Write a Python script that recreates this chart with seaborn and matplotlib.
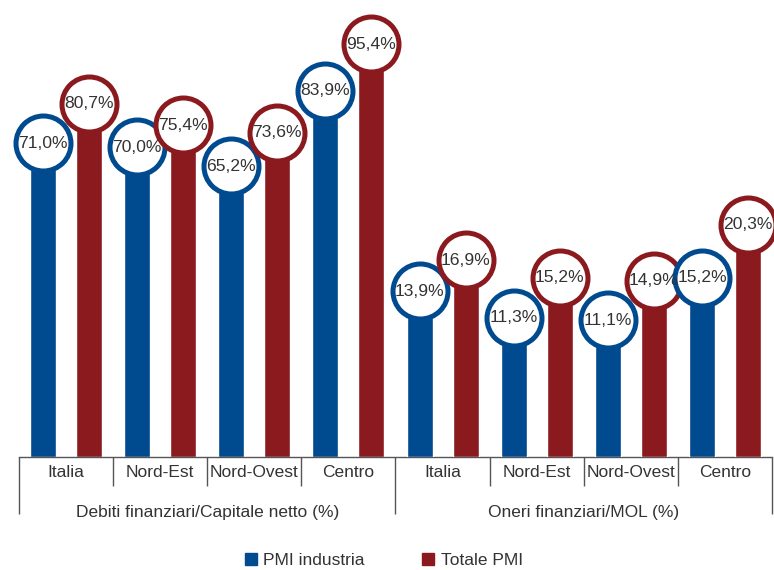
import matplotlib
matplotlib.use('Agg')
import matplotlib.pyplot as plt
from matplotlib.lines import Line2D
import pandas as pd
import seaborn as sns

# Dati
regioni = ['Italia', 'Nord-Est', 'Nord-Ovest', 'Centro']
gruppi = ['Debiti finanziari/Capitale netto (%)', 'Oneri finanziari/MOL (%)']
serie = ['PMI industria', 'Totale PMI']
debiti_pmi_industria = [71.0, 70.0, 65.2, 83.9]
debiti_totale_pmi = [80.7, 75.4, 73.6, 95.4]
oneri_pmi_industria = [13.9, 11.3, 11.1, 15.2]
oneri_totale_pmi = [16.9, 15.2, 14.9, 20.3]

BLU = '#004a8f'
ROSSO = '#8b1a1e'
TESTO = '#333333'
LINEA = '#555555'

righe = []
valori = [(debiti_pmi_industria, debiti_totale_pmi), (oneri_pmi_industria, oneri_totale_pmi)]
for g, coppia in enumerate(valori):
    for s, v in zip(serie, coppia):
        for r, x in zip(regioni, v):
            righe.append({'gruppo': g, 'slot': '{}-{}'.format(g, r), 'serie': s, 'valore': x})
df = pd.DataFrame(righe)
ordine = ['{}-{}'.format(g, r) for g in range(2) for r in regioni]

sns.set_style('white')
plt.rcParams['font.family'] = ['Liberation Sans', 'DejaVu Sans']

fig = plt.figure(figsize=(7.74, 5.70), dpi=100)
ax = fig.add_axes([19 / 774, 113 / 570, 753 / 774, 457 / 570])
ax2 = ax.twinx()

# ogni gruppo ha la sua scala (asse secondario per il secondo)
limiti = [(-6.7, 106.4), (-2.16, 42.08)]
for g, a in enumerate([ax, ax2]):
    sns.barplot(data=df[df.gruppo == g], x='slot', y='valore', hue='serie',
                order=ordine, hue_order=serie, palette=[BLU, ROSSO],
                saturation=1, width=0.977, gap=0.435, errorbar=None,
                legend=False, ax=a, zorder=2)
    basso, alto = limiti[g]
    a.set_ylim(basso, alto)
    barre = [p for p in a.patches if p.get_height() > 0]
    barre.sort(key=lambda p: p.get_x())
    for p in barre:
        cx = p.get_x() + p.get_width() / 2
        cima = p.get_y() + p.get_height()
        colore = p.get_facecolor()
        # la barra parte dalla linea dell'asse
        p.set_y(basso)
        p.set_height(cima - basso)
        a.scatter([cx], [cima], s=1568, facecolor='white', edgecolor=colore,
                  linewidths=3.6, zorder=3, clip_on=False)
        etichetta = '{:.1f}'.format(cima).replace('.', ',') + '%'
        a.text(cx, cima, etichetta, ha='center', va='center', fontsize=12.6,
               color=TESTO, zorder=4)
    a.set_xlabel('')
    a.set_ylabel('')
    a.set_yticks([])
    for lato in ['left', 'right', 'top', 'bottom']:
        a.spines[lato].set_visible(False)

ax.set_xlim(-0.5, 7.5)
ax.spines['bottom'].set_visible(True)
ax.spines['bottom'].set_color(LINEA)
ax.spines['bottom'].set_linewidth(1)
ax.set_xticks(range(8))
ax.set_xticklabels(regioni * 2, fontsize=12.5, color=TESTO)
ax.tick_params(axis='x', length=0, pad=6)

trasf = ax.get_xaxis_transform()
ax.vlines([0.5, 1.5, 2.5, 4.5, 5.5, 6.5], 0, -29 / 457, transform=trasf,
          clip_on=False, color=LINEA, lw=1)
ax.vlines([-0.5, 3.5, 7.5], 0, -57 / 457, transform=trasf,
          clip_on=False, color=LINEA, lw=1)
for i, nome in enumerate(gruppi):
    ax.text(1.5 + 4 * i, -55 / 457, nome, transform=trasf, ha='center',
            va='center', fontsize=12.5, color=TESTO)

maniglie = [Line2D([], [], marker='s', ls='', color=c, markersize=8) for c in [BLU, ROSSO]]
fig.legend(maniglie, serie, loc='center', bbox_to_anchor=(0.495, 0.016), ncol=2,
           frameon=False, fontsize=12.5, labelcolor=TESTO, handletextpad=0.3,
           columnspacing=3.3, handlelength=0.8)

fig.savefig('out.png', dpi=100)
